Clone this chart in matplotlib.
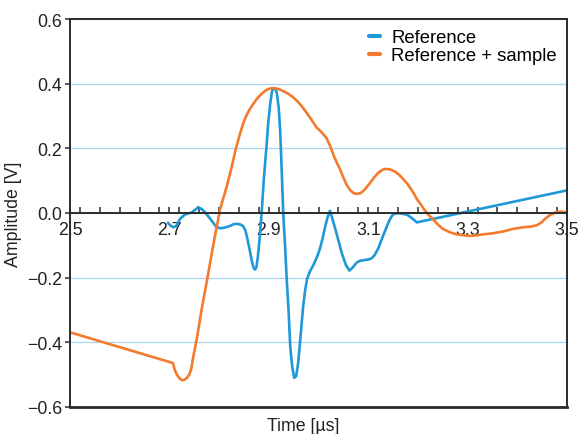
import numpy as np
import matplotlib
matplotlib.use("Agg")
import matplotlib.pyplot as plt
from matplotlib.ticker import MultipleLocator

# ── data ─────────────────────────────────────────────────────
t_ref = [2.697, 2.703, 2.708, 2.714, 2.721, 2.731, 2.745, 2.752, 2.758, 2.765,
         2.772, 2.779, 2.785, 2.795, 2.802, 2.809, 2.816, 2.822, 2.830, 2.839,
         2.845, 2.849, 2.853, 2.857, 2.862, 2.866, 2.869, 2.872, 2.875, 2.878,
         2.882, 2.886, 2.890, 2.895, 2.899, 2.903, 2.906, 2.908, 2.910, 2.913,
         2.916, 2.920, 2.923, 2.926, 2.929, 2.933, 2.936, 2.940, 2.943, 2.947,
         2.951, 2.955, 2.959, 2.964, 2.969, 2.973, 2.977, 2.983, 2.990, 2.997,
         3.003, 3.008, 3.013, 3.018, 3.023, 3.028, 3.033, 3.040, 3.047, 3.055,
         3.062, 3.068, 3.077, 3.083, 3.090, 3.100, 3.107, 3.113, 3.120, 3.127,
         3.134, 3.141, 3.147, 3.152, 3.157, 3.168, 3.179, 3.188, 3.198, 3.500]
v_ref = [-0.030, -0.040, -0.044, -0.040, -0.019, -0.005, 0.002, 0.010, 0.018, 0.012,
         0.002, -0.012, -0.024, -0.044, -0.047, -0.046, -0.043, -0.040, -0.034, -0.034,
         -0.037, -0.042, -0.055, -0.080, -0.118, -0.150, -0.168, -0.175, -0.168, -0.135,
         -0.070, 0.010, 0.105, 0.200, 0.281, 0.340, 0.373, 0.383, 0.386, 0.383,
         0.373, 0.325, 0.250, 0.130, 0.002, -0.110, -0.204, -0.310, -0.410, -0.475,
         -0.510, -0.505, -0.465, -0.380, -0.290, -0.240, -0.204, -0.180, -0.160, -0.136,
         -0.110, -0.080, -0.045, -0.015, 0.007, -0.018, -0.045, -0.085, -0.125, -0.160,
         -0.178, -0.170, -0.153, -0.148, -0.146, -0.144, -0.140, -0.130, -0.110, -0.082,
         -0.055, -0.028, -0.010, -0.003, -0.001, -0.002, -0.006, -0.016, -0.029, 0.070]

t_smp = [2.500, 2.707, 2.709, 2.711, 2.715, 2.720, 2.725, 2.730, 2.735, 2.740,
         2.744, 2.748, 2.755, 2.765, 2.775, 2.788, 2.802, 2.815, 2.825, 2.833,
         2.842, 2.848, 2.855, 2.862, 2.869, 2.877, 2.885, 2.892, 2.900, 2.906,
         2.912, 2.918, 2.925, 2.933, 2.940, 2.949, 2.958, 2.969, 2.983, 2.996,
         3.006, 3.016, 3.024, 3.030, 3.036, 3.043, 3.050, 3.057, 3.064, 3.070,
         3.077, 3.084, 3.090, 3.097, 3.104, 3.112, 3.120, 3.127, 3.133, 3.140,
         3.147, 3.155, 3.163, 3.171, 3.180, 3.190, 3.198, 3.205, 3.212, 3.218,
         3.225, 3.233, 3.242, 3.251, 3.265, 3.278, 3.292, 3.305, 3.318, 3.332,
         3.350, 3.372, 3.392, 3.412, 3.428, 3.439, 3.448, 3.456, 3.466, 3.479,
         3.490, 3.500]
v_smp = [-0.369, -0.464, -0.474, -0.486, -0.500, -0.511, -0.517, -0.516, -0.510, -0.500,
         -0.482, -0.445, -0.390, -0.297, -0.214, -0.101, 0.012, 0.080, 0.140, 0.195,
         0.245, 0.275, 0.302, 0.322, 0.338, 0.355, 0.368, 0.377, 0.384, 0.386,
         0.386, 0.384, 0.380, 0.374, 0.368, 0.358, 0.345, 0.325, 0.295, 0.265,
         0.250, 0.232, 0.205, 0.180, 0.158, 0.136, 0.110, 0.086, 0.070, 0.062,
         0.059, 0.061, 0.068, 0.080, 0.094, 0.110, 0.124, 0.132, 0.136, 0.136,
         0.133, 0.127, 0.117, 0.104, 0.088, 0.065, 0.043, 0.028, 0.012, 0.000,
         -0.011, -0.024, -0.038, -0.050, -0.060, -0.066, -0.069, -0.071, -0.069, -0.066,
         -0.063, -0.057, -0.049, -0.044, -0.042, -0.038, -0.030, -0.018, -0.006, 0.003,
         0.004, 0.002]

labels = ["Reference", "Reference + sample"]

C_REF = "#1f98d8"
C_SMP = "#f47a2e"
C_AX = "#2b2b2b"

plt.rcParams["font.family"] = ["Liberation Sans", "DejaVu Sans"]
plt.rcParams["axes.unicode_minus"] = True

fig = plt.figure(figsize=(5.8, 4.35), dpi=100)
ax = fig.add_axes([0.1207, 0.0621, 0.8569, 0.8919])

ax.plot(t_ref, v_ref, color=C_REF, lw=1.9, label=labels[0],
        solid_joinstyle="round", solid_capstyle="round")
ax.plot(t_smp, v_smp, color=C_SMP, lw=1.9, label=labels[1],
        solid_joinstyle="round", solid_capstyle="round")

ax.set_xlim(2.5, 3.5)
ax.set_ylim(-0.6, 0.6)

# light blue horizontal grid
ax.yaxis.grid(True, color="#a9d5f0", lw=0.9)
ax.set_axisbelow(True)

# x axis sits on y = 0, frame kept round the whole plot
ax.spines["bottom"].set_position(("data", 0))
for s in ax.spines.values():
    s.set_color(C_AX)
    s.set_linewidth(1.4)
ax.plot([0, 1], [0, 0], transform=ax.transAxes, color=C_AX, lw=2.0,
        clip_on=False, zorder=5)

ax.xaxis.set_minor_locator(MultipleLocator(0.04))
ax.set_xticks(np.arange(2.5, 3.51, 0.2))
ax.set_xticklabels([f"{x:.1f}" for x in np.arange(2.5, 3.51, 0.2)])
ax.set_yticks(np.arange(-0.6, 0.61, 0.2))
ax.set_yticklabels([f"{y:.1f}".replace("-", "\u2212") for y in np.arange(-0.6, 0.61, 0.2)])

ax.tick_params(axis="x", which="both", direction="in", length=4.5, width=1.1,
               color=C_AX, pad=6, labelsize=12.8, labelcolor="#222222")
ax.tick_params(axis="y", which="major", direction="out", length=3.5, width=1.1,
               color=C_AX, pad=2, labelsize=12.8, labelcolor="#222222")

ax.set_xlabel("Time [\u00b5s]", fontsize=12.8, color="#222222")
ax.xaxis.set_label_coords(0.47, -0.025)
ax.set_ylabel("Amplitude [V]", fontsize=12.8, color="#222222", labelpad=4)

leg = ax.legend(loc="upper right", frameon=False, fontsize=13.3,
                handlelength=0.6, handletextpad=0.6, labelspacing=0.05,
                borderaxespad=0.15)
for line in leg.get_lines():
    line.set_linewidth(3.0)

fig.savefig("out.png", dpi=100)
